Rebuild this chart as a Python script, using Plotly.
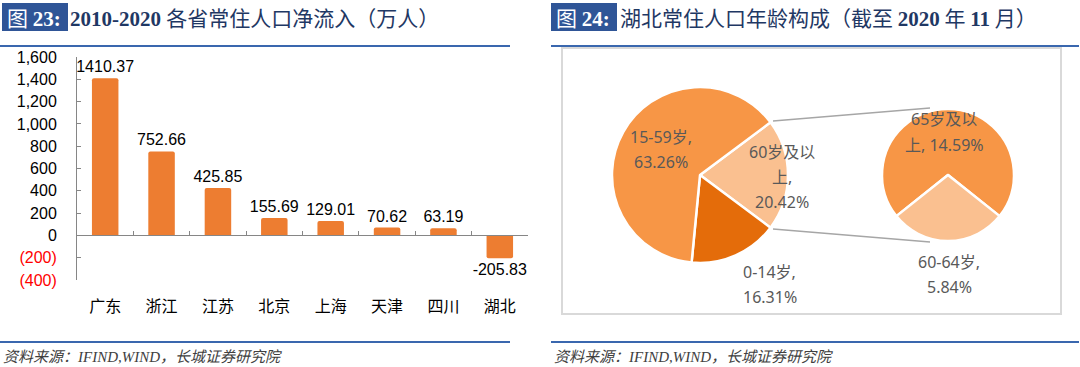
import plotly.graph_objects as go

# ---------------- data ----------------
provinces = ["广东", "浙江", "江苏", "北京", "上海", "天津", "四川", "湖北"]
net_inflow = [1410.37, 752.66, 425.85, 155.69, 129.01, 70.62, 63.19, -205.83]
y_ticks = [-400, -200, 0, 200, 400, 600, 800, 1000, 1200, 1400, 1600]

age_groups = ["60岁及以上", "0-14岁", "15-59岁"]
age_shares = [20.42, 16.31, 63.26]
sub_groups = ["65岁及以上", "60-64岁"]
sub_shares = [14.59, 5.84]

W, H = 1080, 367


def px(x):
    return x / W


def py(y):
    return 1 - y / H


def ytick_text(v):
    if v < 0:
        return "<span style='color:#FF0000'>(%s)</span>" % format(-v, ",")
    return format(v, ",")


BAR_COL = "#ED7D31"
AXIS_COL = "#868686"
TITLE_COL = "#1F3864"
BOX_COL = "#2F5597"
LINE_COL = "#3A67AE"
LABEL_COL = "#595959"
LATIN = "Liberation Sans"
CJK = "Noto Sans CJK SC"

fig = go.Figure()

# ---------------- bar chart ----------------
fig.add_trace(go.Bar(
    x=provinces, y=net_inflow,
    marker=dict(color=BAR_COL, line=dict(width=0), cornerradius=2),
    width=0.47,
    text=[f"{v:.2f}" for v in net_inflow],
    textposition="outside",
    textfont=dict(family=LATIN, size=16, color="#000000"),
    constraintext="none",
    cliponaxis=False,
    showlegend=False,
    hoverinfo="skip",
    xaxis="x", yaxis="y",
))
# helper trace for the zero axis line with category-boundary ticks
fig.add_trace(go.Scatter(x=[None], y=[None], xaxis="x2", yaxis="y",
                         showlegend=False, hoverinfo="skip"))

# ---------------- pies ----------------
main_total = sum(age_shares)
rot_main = 90 - age_shares[0] / main_total * 360 / 2
fig.add_trace(go.Pie(
    labels=age_groups, values=age_shares, sort=False, direction="clockwise",
    rotation=rot_main,
    marker=dict(colors=["#FAC090", "#E46C0A", "#F79646"],
                line=dict(color="#FFFFFF", width=2.5)),
    textinfo="none", hoverinfo="skip", showlegend=False,
    domain=dict(x=[px(612), px(788)], y=[py(263), py(87)]),
))
sub_total = sum(sub_shares)
rot_sub = 180 - (sub_shares[0] + sub_shares[1] / 2) / sub_total * 360
fig.add_trace(go.Pie(
    labels=sub_groups, values=sub_shares, sort=False, direction="clockwise",
    rotation=rot_sub,
    marker=dict(colors=["#F79646", "#FAC090"],
                line=dict(color="#FFFFFF", width=2.5)),
    textinfo="none", hoverinfo="skip", showlegend=False,
    domain=dict(x=[px(882), px(1014)], y=[py(241), py(109)]),
))

# ---------------- annotations ----------------
ann = []

# pie labels (one annotation per text line)
pie_label_lines = [
    ([f"{age_groups[2]},", f"{age_shares[2]:.2f}%"], 661, 150),
    (["60岁及以", "上,", f"{age_shares[0]:.2f}%"], 782, 177),
    ([f"{age_groups[1]},", f"{age_shares[1]:.2f}%"], 770, 284),
    (["65岁及以", f"上, {sub_shares[0]:.2f}%"], 944, 132),
    ([f"{sub_groups[1]},", f"{sub_shares[1]:.2f}%"], 949, 274),
]
LS = 25
for lines, cx, cy in pie_label_lines:
    n = len(lines)
    for i, t in enumerate(lines):
        yy = cy + (i - (n - 1) / 2) * LS
        ann.append(dict(text=t, x=px(cx), y=py(yy), xref="paper", yref="paper",
                        showarrow=False, xanchor="center", yanchor="middle",
                        font=dict(family="Noto Sans, " + CJK, size=16, color=LABEL_COL)))

SERIF_B = "font-family:Liberation Serif;font-weight:bold"


def serif(t):
    return f"<span style='{SERIF_B}'>{t}</span>"


# title boxes
for x0, num in [(2, "23"), (551, "24")]:
    ann.append(dict(text=f"图 {serif(num + ':')}", x=px(x0 + 3), y=py(17),
                    xref="paper", yref="paper", showarrow=False,
                    xanchor="left", yanchor="middle",
                    font=dict(family=CJK, size=21, color="#FFFFFF")))

ann.append(dict(text=serif("2010-2020 ") + "各省常住人口净流入（万人）",
                x=px(68), y=py(17), xref="paper", yref="paper", showarrow=False,
                xanchor="left", yanchor="middle",
                font=dict(family=CJK, size=21, color=TITLE_COL)))
ann.append(dict(text="湖北常住人口年龄构成（截至 " + serif("2020") + " 年 " + serif("11") + " 月）",
                x=px(618), y=py(17), xref="paper", yref="paper", showarrow=False,
                xanchor="left", yanchor="middle",
                font=dict(family=CJK, size=21, color=TITLE_COL)))

# footers
for x0 in [1, 552]:
    ann.append(dict(text="<i>资料来源：<span style='font-family:Liberation Serif'>IFIND,WIND</span>，长城证券研究院</i>",
                    x=px(x0), y=py(355), xref="paper", yref="paper", showarrow=False,
                    xanchor="left", yanchor="middle",
                    font=dict(family=CJK, size=15, color="#404040")))

# ---------------- shapes ----------------
shapes = []
shapes.append(dict(type="rect", xref="paper", yref="paper",
                   x0=px(2), x1=px(68), y0=py(31), y1=py(3),
                   fillcolor=BOX_COL, line=dict(width=0), layer="below"))
shapes.append(dict(type="rect", xref="paper", yref="paper",
                   x0=px(551), x1=px(617), y0=py(31), y1=py(3),
                   fillcolor=BOX_COL, line=dict(width=0), layer="below"))
for (a, b) in [(0, 510), (551, 1079)]:
    for yy in [46, 342]:
        shapes.append(dict(type="line", xref="paper", yref="paper",
                           x0=px(a), x1=px(b), y0=py(yy), y1=py(yy),
                           line=dict(color=LINE_COL, width=2)))
# right panel border
shapes.append(dict(type="rect", xref="paper", yref="paper",
                   x0=px(562), x1=px(1061), y0=py(314), y1=py(48),
                   line=dict(color="#D9D9D9", width=2), layer="below"))
# pie-of-pie connectors
shapes.append(dict(type="line", xref="paper", yref="paper",
                   x0=px(773), y0=py(121), x1=px(930), y1=py(108),
                   line=dict(color="#A6A6A6", width=1.5)))
shapes.append(dict(type="line", xref="paper", yref="paper",
                   x0=px(773), y0=py(229), x1=px(930), y1=py(242),
                   line=dict(color="#A6A6A6", width=1.5)))

# ---------------- layout ----------------
fig.update_layout(
    width=W, height=H, autosize=False,
    margin=dict(l=0, r=0, t=0, b=0, pad=0, autoexpand=False),
    showlegend=False,
    paper_bgcolor="#FFFFFF", plot_bgcolor="rgba(0,0,0,0)",
    bargap=0.5,
    xaxis=dict(domain=[px(77), px(528)], range=[-0.5, 7.5], type="category",
               showline=False, ticks="", showgrid=False, zeroline=False,
               automargin=False,
               tickfont=dict(family=CJK, size=16, color="#000000"),
               ticklabelstandoff=15, fixedrange=True),
    xaxis2=dict(overlaying="x", anchor="free", position=py(235),
                range=[-0.5, 7.5], showline=True, linecolor=AXIS_COL, linewidth=1,
                ticks="inside", ticklen=4, tickcolor=AXIS_COL, automargin=False,
                tickvals=[i + 0.5 for i in range(len(provinces) - 1)],
                showticklabels=False, showgrid=False, zeroline=False),
    yaxis=dict(domain=[py(280), py(57)], range=[-400, 1600],
               tickvals=y_ticks, ticktext=[ytick_text(v) for v in y_ticks],
               showline=True, linecolor=AXIS_COL, linewidth=1,
               ticks="inside", ticklen=4, tickcolor=AXIS_COL, automargin=False,
               showgrid=False, zeroline=False,
               tickfont=dict(family=LATIN, size=16, color="#000000"),
               ticklabelstandoff=16),
    annotations=ann,
    shapes=shapes,
)

fig.write_html(
    "out.html",
    config={"displayModeBar": False},
    post_script="document.body.style.margin='0';document.body.style.overflow='hidden';",
)
